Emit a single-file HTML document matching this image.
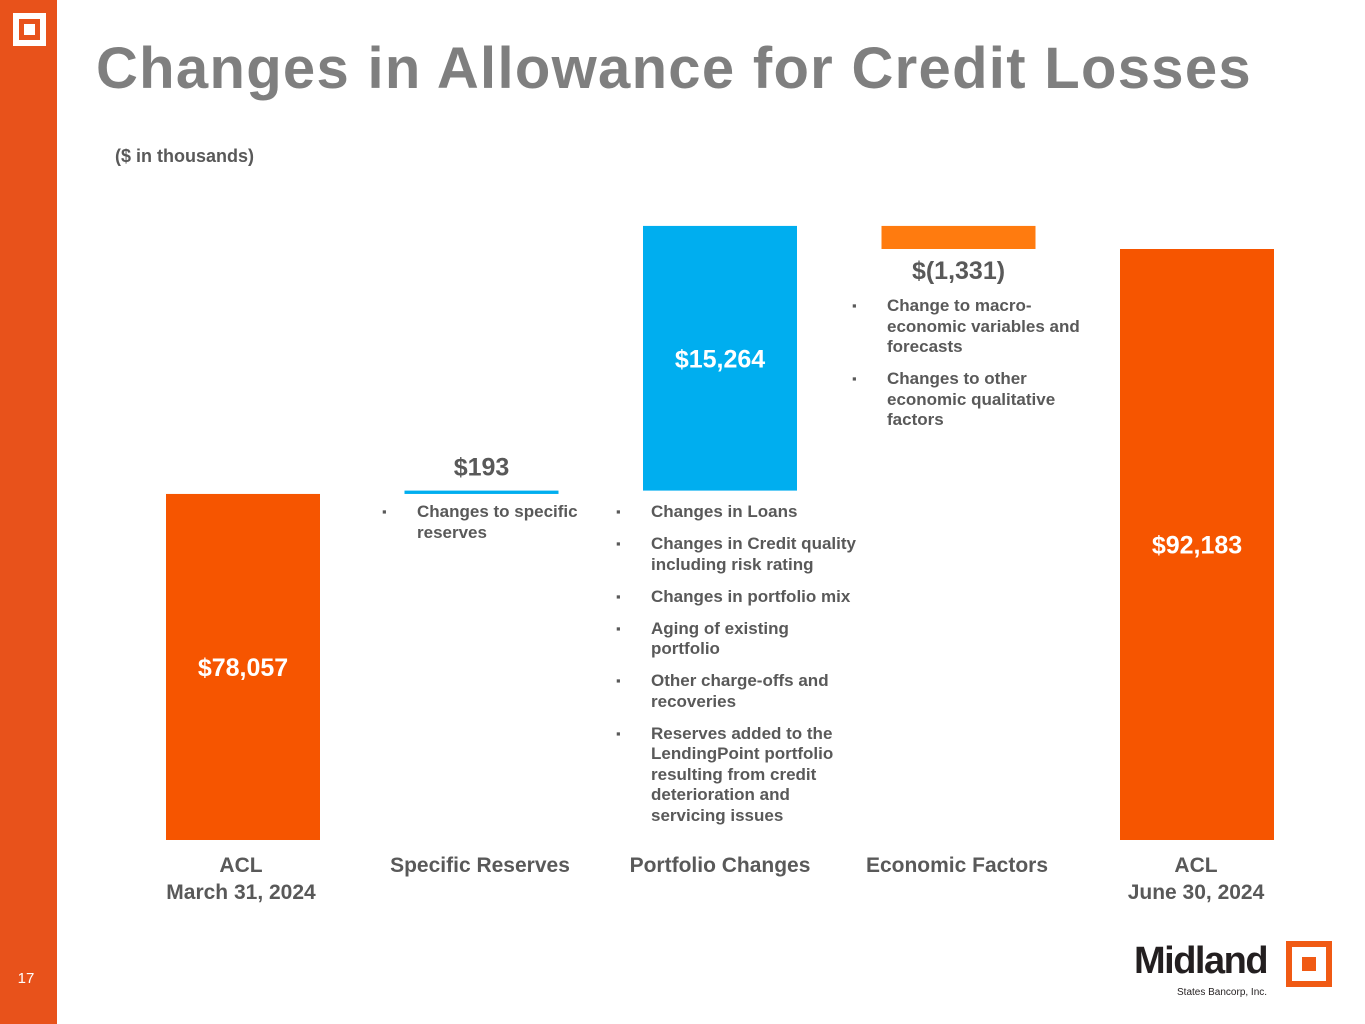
<!DOCTYPE html>
<html><head><meta charset="utf-8"><style>
body{margin:0;width:1365px;height:1024px;position:relative;background:#fff;font-family:"Liberation Sans",sans-serif;overflow:hidden}
.abs{position:absolute}
.bl{position:absolute;font-size:17px;font-weight:bold;color:#595959;line-height:20.5px}
.bl div{position:relative;padding-left:35px;margin-bottom:11.5px}
.bl div:before{content:"▪";position:absolute;left:0;font-size:13px}
.cat{position:absolute;font-size:21px;font-weight:bold;color:#595959;text-align:center;width:240px;line-height:27px}
</style></head><body>
<div class="abs" style="left:0;top:0;width:57px;height:1024px;background:#E8521B"></div>
<div class="abs" style="left:13px;top:13px;width:33px;height:33px;background:#fff"><div style="position:absolute;left:6px;top:6px;width:11px;height:11px;border:5px solid #E8521B;background:#fff"></div></div>
<div class="abs" style="left:0;top:970px;width:52px;text-align:center;color:#fff;font-size:15px">17</div>
<div class="abs" style="left:96px;top:35px;font-size:58px;letter-spacing:1.3px;font-weight:bold;color:#7f7f7f;white-space:nowrap">Changes in Allowance for Credit Losses</div>
<div class="abs" style="left:115px;top:146px;font-size:18px;font-weight:bold;color:#595959">($ in thousands)</div>
<svg id="chart" class="abs" style="left:0;top:0" width="1365" height="1024"></svg>
<div class="bl" style="left:382px;top:502px;width:215px"><div>Changes to specific reserves</div></div>
<div class="bl" style="left:616px;top:502px;width:243px"><div>Changes in Loans</div><div>Changes in Credit quality including risk rating</div><div>Changes in portfolio mix</div><div>Aging of existing portfolio</div><div>Other charge-offs and recoveries</div><div>Reserves added to the LendingPoint portfolio resulting from credit deterioration and servicing issues</div></div>
<div class="bl" style="left:852px;top:296px;width:240px"><div>Change to macro-economic variables and forecasts</div><div>Changes to other economic qualitative factors</div></div>
<div class="cat" style="left:121px;top:852px">ACL<br>March 31, 2024</div>
<div class="cat" style="left:360px;top:852px">Specific Reserves</div>
<div class="cat" style="left:600px;top:852px">Portfolio Changes</div>
<div class="cat" style="left:837px;top:852px">Economic Factors</div>
<div class="cat" style="left:1076px;top:852px">ACL<br>June 30, 2024</div>
<div class="abs" style="left:1134px;top:940px;font-size:38px;font-weight:bold;color:#231f20;letter-spacing:-1.5px">Midland</div>
<div class="abs" style="left:1177px;top:987px;font-size:10px;color:#231f20">States Bancorp, Inc.</div>
<div class="abs" style="left:1286px;top:941px;width:46px;height:46px;background:#F05A14"><div style="position:absolute;left:6px;top:6px;width:34px;height:34px;background:#fff"></div><div style="position:absolute;left:16px;top:16px;width:14px;height:14px;background:#F05A14"></div></div>
<script>
const categories=["ACL March 31, 2024","Specific Reserves","Portfolio Changes","Economic Factors","ACL June 30, 2024"];
const values=[78057,193,15264,-1331,92183];
const valueLabels=["$78,057","$193","$15,264","$(1,331)","$92,183"];
const kinds=["total","delta","delta","delta","total"];
const colors=["#F65500","#00AEEF","#00AEEF","#FF7B0F","#F65500"];
const yMin=58100, baseY=840, pxPer=0.01734;
const y=v=>baseY-(v-yMin)*pxPer;
const x=i=>166+i*238.5;
const bw=154;
const svg=document.getElementById('chart');
const NS="http://www.w3.org/2000/svg";
let run=0;
values.forEach((v,i)=>{
  let a,b;
  if(kinds[i]==="total"){a=yMin;b=v;run=v;}else{a=run;b=run+v;run=b;}
  let top=y(Math.max(a,b)),bot=y(Math.min(a,b));
  let h=Math.max(bot-top,3);
  const r=document.createElementNS(NS,'rect');
  
  
  r.setAttribute('x',x(i));r.setAttribute('y',top);r.setAttribute('width',bw);r.setAttribute('height',h);r.setAttribute('fill',colors[i]);
  svg.appendChild(r);
  const t=document.createElementNS(NS,'text');
  
  
  let inside=h>60;
  let ty=inside?top+h/2+9:(v<0?bot+30:top-15);
  t.setAttribute('x',x(i)+bw/2);t.setAttribute('y',ty);t.setAttribute('text-anchor','middle');
  t.setAttribute('font-size','25');t.setAttribute('font-weight','bold');t.setAttribute('font-family','Liberation Sans, sans-serif');
  t.setAttribute('fill',inside?'#fff':'#595959');
  t.textContent=valueLabels[i];
  svg.appendChild(t);
});
</script>
</body></html>
